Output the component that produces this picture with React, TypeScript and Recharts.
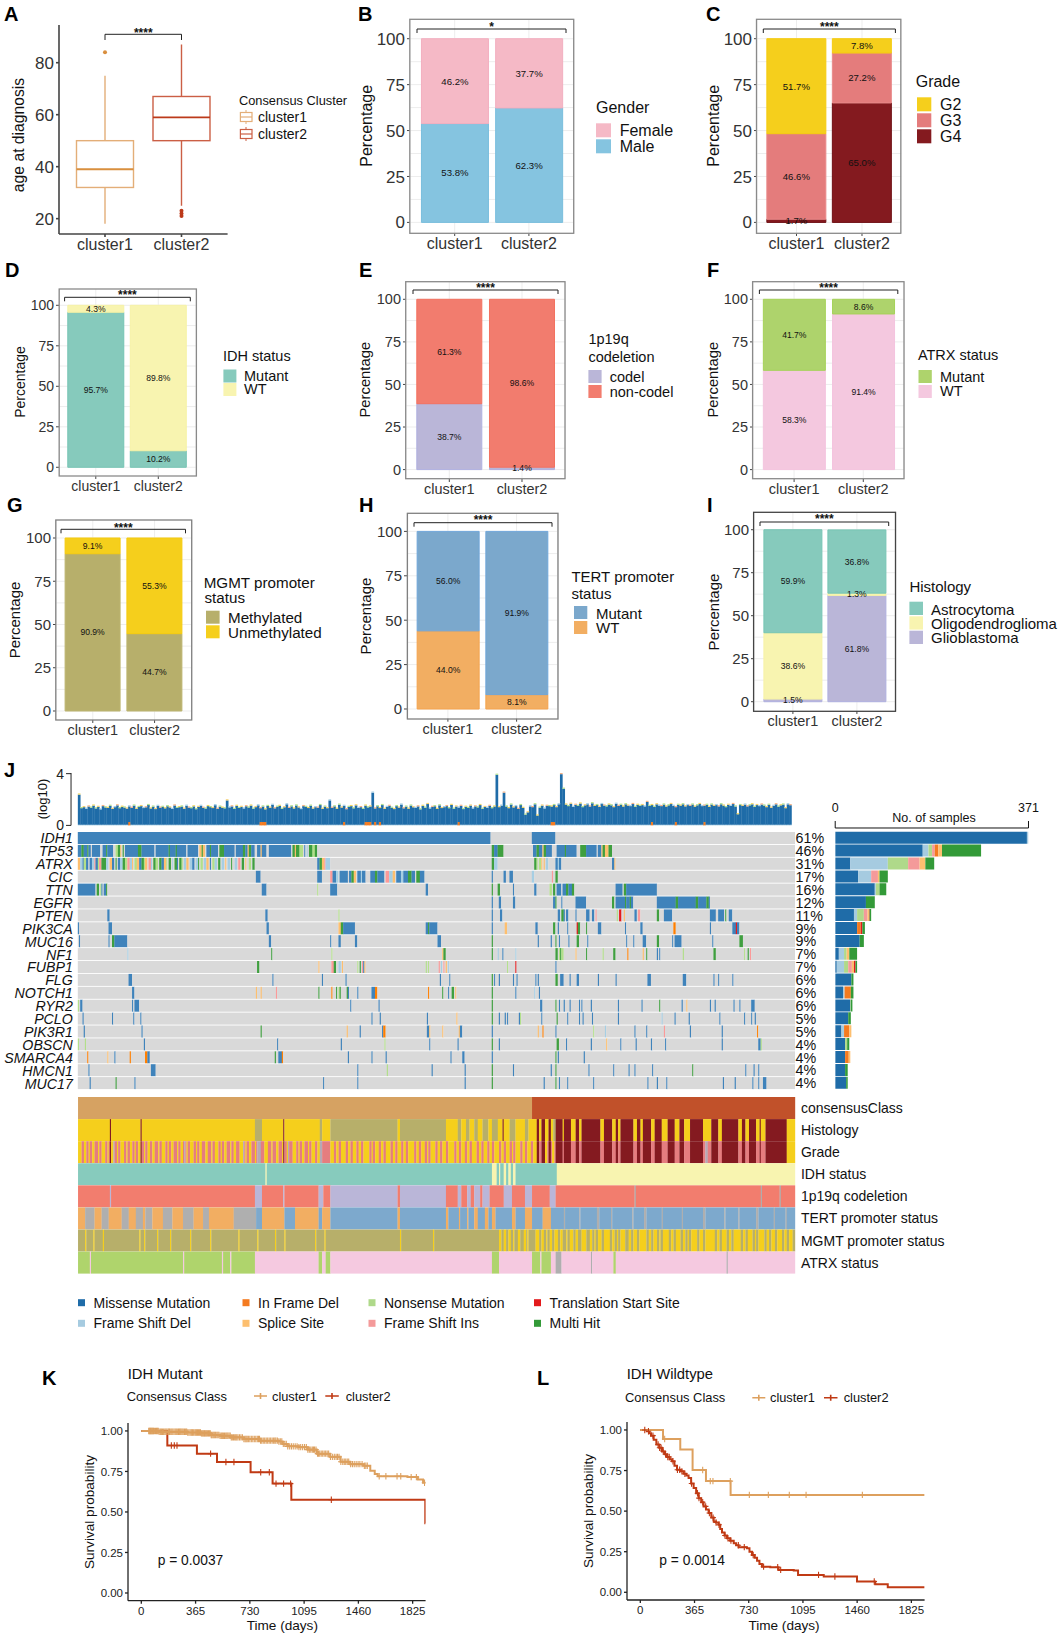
import React from 'react';
import { BarChart, Bar, XAxis, YAxis, CartesianGrid, LabelList, ComposedChart, LineChart, Line } from 'recharts';

const FONT = '"Liberation Sans", Arial, sans-serif';
const clusters = ['cluster1', 'cluster2'];

// ---------- stacked percentage panels (bottom to top, [cluster1, cluster2]) ----------
const genderMale = [53.8, 62.3];
const genderFemale = [46.2, 37.7];
const gradeG4 = [1.7, 65.0];
const gradeG3 = [46.6, 27.2];
const gradeG2 = [51.7, 7.8];
const idhMutant = [95.7, 10.2];
const idhWT = [4.3, 89.8];
const codel = [38.7, 1.4];
const nonCodel = [61.3, 98.6];
const atrxWT = [58.3, 91.4];
const atrxMutant = [41.7, 8.6];
const mgmtMethylated = [90.9, 44.7];
const mgmtUnmethylated = [9.1, 55.3];
const tertWT = [44.0, 8.1];
const tertMutant = [56.0, 91.9];
const histoGlio = [1.5, 61.8];
const histoOligo = [38.6, 1.3];
const histoAstro = [59.9, 36.8];

// ---------- box plot ----------
const ageBoxes = [
  { cat: 'cluster1', range: [32, 50], med: 39, lo: 18, hi: 75, out: [84], color: '#E3AE78', dark: '#D98F3E' },
  { cat: 'cluster2', range: [50, 67], med: 59, lo: 25, hi: 87, out: [21, 22, 23], color: '#CB5F45', dark: '#BC3A1A' },
];

// ---------- oncoplot ----------
const N = 608;
const genes = ['IDH1', 'TP53', 'ATRX', 'CIC', 'TTN', 'EGFR', 'PTEN', 'PIK3CA', 'MUC16', 'NF1', 'FUBP1', 'FLG', 'NOTCH1', 'RYR2', 'PCLO', 'PIK3R1', 'OBSCN', 'SMARCA4', 'HMCN1', 'MUC17'];
const genePct = ['61%', '46%', '31%', '17%', '16%', '12%', '11%', '9%', '9%', '7%', '7%', '6%', '6%', '6%', '5%', '5%', '4%', '4%', '4%', '4%'];
type Run = [number, number, string];
const runsIDH1: Run[] = [[0, 350, 'M'], [385, 20, 'M']];
const runsTP53: Run[] = [[0, 11, 'M'], [3, 2, 'H'], [8, 1, 'H'], [12, 7, 'M'], [21, 9, 'M'], [24, 1, 'H'], [32, 2, 'N'], [34, 2, 'H'], [36, 1, 'S'], [38, 1, 'H'], [40, 11, 'M'], [51, 3, 'H'], [54, 11, 'M'], [66, 5, 'M'], [71, 21, 'M'], [77, 1, 'H'], [83, 1, 'H'], [93, 9, 'M'], [103, 2, 'S'], [105, 1, 'H'], [106, 2, 'S'], [109, 10, 'M'], [112, 1, 'H'], [120, 4, 'H'], [124, 9, 'M'], [134, 6, 'M'], [140, 2, 'H'], [142, 2, 'M'], [144, 1, 'S'], [145, 2, 'H'], [147, 3, 'M'], [152, 3, 'M'], [155, 1, 'S'], [156, 4, 'M'], [162, 19, 'M'], [182, 2, 'H'], [184, 1, 'S'], [185, 3, 'H'], [188, 3, 'N'], [192, 1, 'M'], [194, 1, 'D'], [196, 3, 'H'], [199, 2, 'N'], [201, 2, 'H'], [351, 2, 'H'], [353, 3, 'M'], [356, 2, 'H'], [358, 3, 'H'], [386, 3, 'M'], [389, 2, 'H'], [391, 3, 'M'], [394, 1, 'S'], [395, 2, 'H'], [397, 5, 'M'], [406, 12, 'M'], [418, 5, 'M'], [413, 1, 'H'], [426, 5, 'H'], [431, 9, 'M'], [441, 3, 'M'], [444, 1, 'S'], [445, 2, 'H'], [447, 3, 'S'], [450, 3, 'H']];
const runsATRX: Run[] = [[0, 2, 'S'], [2, 2, 'D'], [4, 1, 'M'], [5, 2, 'N'], [7, 2, 'M'], [10, 2, 'M'], [12, 2, 'D'], [14, 1, 'I'], [15, 2, 'M'], [17, 1, 'N'], [18, 2, 'I'], [20, 2, 'H'], [22, 2, 'H'], [24, 2, 'D'], [27, 2, 'S'], [29, 2, 'M'], [32, 1, 'H'], [34, 2, 'M'], [36, 2, 'D'], [38, 2, 'H'], [40, 2, 'N'], [42, 2, 'I'], [44, 2, 'D'], [46, 1, 'S'], [48, 2, 'N'], [50, 2, 'S'], [52, 2, 'M'], [54, 2, 'H'], [56, 1, 'N'], [57, 2, 'S'], [60, 2, 'I'], [62, 1, 'D'], [64, 2, 'H'], [66, 2, 'N'], [69, 2, 'H'], [71, 2, 'M'], [73, 2, 'S'], [75, 1, 'N'], [77, 2, 'H'], [80, 1, 'D'], [82, 2, 'H'], [84, 1, 'M'], [86, 2, 'H'], [88, 1, 'N'], [90, 2, 'D'], [92, 2, 'S'], [95, 2, 'D'], [97, 2, 'M'], [100, 2, 'D'], [102, 1, 'H'], [104, 2, 'N'], [107, 2, 'D'], [109, 2, 'S'], [112, 1, 'M'], [114, 2, 'N'], [116, 2, 'D'], [119, 2, 'H'], [122, 2, 'D'], [125, 1, 'S'], [127, 2, 'D'], [130, 1, 'H'], [133, 2, 'D'], [136, 2, 'I'], [139, 2, 'H'], [142, 1, 'S'], [145, 2, 'N'], [148, 2, 'H'], [203, 2, 'M'], [205, 2, 'H'], [207, 2, 'S'], [209, 1, 'I'], [210, 4, 'D'], [351, 2, 'H'], [353, 3, 'D'], [387, 2, 'H'], [389, 1, 'N'], [391, 2, 'N'], [393, 1, 'S'], [395, 1, 'S'], [397, 2, 'D'], [405, 2, 'M'], [407, 1, 'D'], [408, 2, 'M'], [453, 2, 'M'], [455, 1, 'S']];
const runsCIC: Run[] = [[151, 2, 'M'], [153, 2, 'M'], [203, 4, 'M'], [214, 2, 'I'], [216, 3, 'M'], [219, 2, 'D'], [222, 7, 'M'], [230, 2, 'M'], [232, 2, 'H'], [234, 2, 'S'], [237, 3, 'M'], [240, 1, 'D'], [241, 3, 'M'], [248, 4, 'M'], [252, 2, 'H'], [254, 6, 'M'], [261, 3, 'I'], [264, 3, 'D'], [267, 2, 'S'], [270, 4, 'M'], [274, 2, 'D'], [276, 4, 'M'], [280, 3, 'H'], [283, 3, 'M'], [287, 3, 'H'], [290, 4, 'M'], [351, 1, 'M'], [361, 2, 'M'], [366, 3, 'M'], [385, 2, 'D'], [402, 1, 'I'], [405, 2, 'H']];
const runsTTN: Run[] = [[0, 15, 'M'], [16, 2, 'H'], [19, 1, 'N'], [20, 1, 'M'], [22, 2, 'M'], [24, 1, 'H'], [156, 4, 'M'], [203, 1, 'N'], [214, 6, 'M'], [295, 2, 'M'], [351, 1, 'H'], [356, 2, 'H'], [369, 1, 'M'], [387, 2, 'M'], [400, 2, 'N'], [403, 2, 'H'], [406, 4, 'M'], [411, 10, 'M'], [414, 2, 'H'], [419, 2, 'H'], [456, 6, 'M'], [463, 2, 'H'], [465, 26, 'M']];
const runsEGFR: Run[] = [[351, 1, 'M'], [357, 2, 'M'], [369, 2, 'M'], [403, 2, 'M'], [405, 1, 'H'], [410, 1, 'M'], [422, 9, 'M'], [453, 2, 'H'], [456, 15, 'M'], [464, 1, 'H'], [468, 1, 'H'], [491, 45, 'M'], [507, 2, 'H'], [524, 2, 'H'], [533, 2, 'H']];
const runsPTEN: Run[] = [[25, 2, 'M'], [159, 2, 'M'], [221, 1, 'N'], [351, 1, 'M'], [358, 2, 'M'], [407, 2, 'M'], [410, 2, 'H'], [412, 1, 'M'], [414, 2, 'M'], [422, 1, 'M'], [431, 3, 'M'], [436, 2, 'M'], [439, 1, 'I'], [457, 1, 'N'], [459, 2, 'T'], [463, 1, 'S'], [472, 2, 'M'], [475, 2, 'I'], [491, 2, 'H'], [497, 7, 'M'], [536, 5, 'M'], [543, 5, 'M'], [549, 1, 'H'], [552, 3, 'M']];
const runsPIK3CA: Run[] = [[0, 1, 'M'], [26, 3, 'M'], [160, 2, 'M'], [221, 2, 'S'], [223, 2, 'H'], [225, 10, 'M'], [295, 2, 'M'], [297, 1, 'H'], [298, 7, 'M'], [351, 1, 'M'], [362, 2, 'S'], [388, 2, 'M'], [403, 2, 'H'], [407, 1, 'M'], [415, 1, 'M'], [423, 1, 'T'], [424, 2, 'H'], [431, 1, 'H'], [441, 3, 'M'], [464, 1, 'M'], [477, 2, 'M'], [505, 2, 'F'], [536, 1, 'M'], [555, 3, 'M'], [558, 1, 'T'], [559, 2, 'M']];
const runsMUC16: Run[] = [[1, 1, 'M'], [26, 1, 'M'], [29, 2, 'H'], [31, 11, 'M'], [162, 2, 'M'], [214, 1, 'M'], [221, 2, 'M'], [235, 2, 'M'], [305, 3, 'M'], [351, 1, 'H'], [390, 1, 'M'], [401, 1, 'M'], [405, 1, 'H'], [408, 1, 'M'], [416, 1, 'M'], [423, 2, 'H'], [432, 1, 'M'], [465, 1, 'M'], [471, 1, 'M'], [479, 3, 'M'], [491, 2, 'H'], [504, 1, 'M'], [506, 6, 'M'], [538, 1, 'M'], [561, 3, 'H']];
const runsNF1: Run[] = [[42, 1, 'D'], [164, 1, 'H'], [215, 1, 'N'], [309, 1, 'S'], [310, 2, 'H'], [351, 1, 'H'], [356, 1, 'D'], [360, 1, 'M'], [371, 1, 'D'], [405, 2, 'H'], [408, 1, 'N'], [409, 1, 'H'], [410, 2, 'N'], [422, 1, 'S'], [431, 1, 'H'], [445, 1, 'N'], [454, 2, 'H'], [466, 1, 'F'], [479, 1, 'S'], [482, 1, 'H'], [491, 1, 'M'], [493, 1, 'M'], [513, 1, 'N'], [539, 2, 'H'], [565, 1, 'N'], [568, 1, 'H'], [570, 1, 'I']];
const runsFUBP1: Run[] = [[152, 2, 'H'], [204, 1, 'S'], [215, 2, 'I'], [217, 2, 'H'], [221, 2, 'D'], [224, 1, 'S'], [237, 1, 'N'], [239, 1, 'H'], [241, 1, 'I'], [242, 1, 'M'], [243, 1, 'S'], [295, 1, 'N'], [297, 1, 'N'], [306, 1, 'I'], [308, 1, 'D'], [310, 1, 'I'], [312, 1, 'S'], [314, 1, 'D'], [364, 1, 'N'], [371, 1, 'T'], [405, 1, 'M']];
const runsFLG: Run[] = [[43, 3, 'M'], [165, 1, 'M'], [207, 1, 'M'], [227, 1, 'M'], [307, 1, 'M'], [315, 1, 'M'], [351, 1, 'H'], [353, 1, 'M'], [357, 1, 'M'], [369, 1, 'M'], [372, 1, 'M'], [388, 1, 'M'], [390, 1, 'M'], [405, 2, 'H'], [409, 3, 'M'], [417, 1, 'M'], [423, 2, 'M'], [441, 1, 'M'], [456, 1, 'M'], [483, 3, 'M'], [513, 3, 'M'], [539, 1, 'M'], [543, 1, 'M'], [555, 1, 'M']];
const runsNOTCH1: Run[] = [[46, 2, 'M'], [151, 1, 'S'], [155, 1, 'S'], [168, 1, 'I'], [204, 1, 'H'], [215, 1, 'F'], [219, 1, 'H'], [221, 1, 'N'], [222, 1, 'H'], [228, 1, 'H'], [229, 1, 'M'], [237, 1, 'M'], [249, 3, 'M'], [252, 2, 'F'], [297, 1, 'F'], [309, 1, 'H'], [314, 1, 'M'], [317, 2, 'H'], [320, 1, 'S'], [351, 1, 'H'], [371, 1, 'M'], [387, 1, 'D'], [391, 1, 'M']];
const runsRYR2: Run[] = [[0, 1, 'N'], [2, 2, 'M'], [46, 1, 'M'], [48, 4, 'M'], [231, 1, 'M'], [255, 1, 'M'], [351, 1, 'H'], [392, 2, 'M'], [405, 1, 'H'], [408, 1, 'M'], [412, 1, 'M'], [417, 1, 'M'], [425, 1, 'M'], [427, 1, 'M'], [435, 1, 'M'], [458, 1, 'M'], [478, 1, 'M'], [493, 1, 'H'], [512, 1, 'M'], [516, 1, 'S'], [536, 1, 'M'], [540, 1, 'M'], [556, 1, 'M'], [561, 1, 'M'], [571, 3, 'M']];
const runsPCLO: Run[] = [[4, 1, 'M'], [29, 1, 'M'], [47, 1, 'M'], [53, 1, 'M'], [249, 1, 'M'], [256, 1, 'M'], [296, 1, 'M'], [321, 1, 'S'], [351, 1, 'H'], [357, 1, 'M'], [362, 1, 'M'], [364, 1, 'M'], [374, 1, 'M'], [375, 1, 'N'], [393, 1, 'M'], [406, 1, 'H'], [415, 1, 'M'], [425, 1, 'M'], [428, 1, 'M'], [436, 1, 'M'], [458, 1, 'M'], [495, 1, 'D'], [506, 1, 'M'], [518, 1, 'M'], [544, 1, 'M'], [565, 1, 'M'], [571, 1, 'M'], [574, 1, 'M']];
const runsPIK3R1: Run[] = [[5, 1, 'M'], [54, 1, 'M'], [155, 1, 'H'], [228, 1, 'S'], [239, 1, 'M'], [258, 1, 'M'], [259, 2, 'F'], [296, 2, 'M'], [298, 1, 'S'], [309, 1, 'S'], [323, 1, 'S'], [324, 2, 'M'], [351, 1, 'M'], [390, 1, 'S'], [394, 1, 'F'], [405, 1, 'M'], [437, 1, 'N'], [447, 1, 'D'], [472, 1, 'M'], [482, 1, 'M'], [497, 1, 'I'], [519, 1, 'M'], [546, 1, 'M'], [576, 1, 'F']];
const runsOBSCN: Run[] = [[0, 1, 'N'], [6, 1, 'N'], [56, 1, 'M'], [169, 1, 'M'], [223, 1, 'M'], [260, 1, 'N'], [298, 1, 'M'], [322, 1, 'M'], [351, 1, 'H'], [357, 1, 'M'], [406, 2, 'H'], [414, 1, 'M'], [435, 1, 'M'], [448, 1, 'S'], [460, 1, 'M'], [473, 1, 'M'], [486, 1, 'M'], [498, 1, 'M'], [546, 1, 'M'], [577, 2, 'M'], [579, 1, 'N']];
const runsSMARCA4: Run[] = [[8, 1, 'F'], [25, 1, 'S'], [31, 1, 'M'], [44, 1, 'F'], [57, 2, 'F'], [59, 2, 'M'], [167, 1, 'H'], [170, 3, 'M'], [173, 1, 'F'], [229, 1, 'M'], [249, 1, 'M'], [261, 1, 'M'], [316, 1, 'M'], [326, 2, 'M'], [351, 1, 'M'], [405, 1, 'H'], [407, 1, 'M'], [429, 1, 'M']];
const runsHMCN1: Run[] = [[9, 1, 'M'], [62, 4, 'M'], [237, 1, 'M'], [262, 1, 'N'], [300, 1, 'M'], [328, 1, 'M'], [351, 1, 'H'], [369, 1, 'M'], [401, 1, 'M'], [405, 1, 'H'], [433, 1, 'M'], [454, 1, 'M'], [467, 1, 'M'], [472, 1, 'M'], [487, 1, 'M'], [521, 1, 'H'], [566, 1, 'M'], [573, 1, 'M'], [577, 1, 'M']];
const runsMUC17: Run[] = [[10, 1, 'M'], [32, 1, 'H'], [48, 1, 'M'], [208, 1, 'M'], [237, 1, 'M'], [328, 1, 'M'], [351, 1, 'H'], [395, 1, 'M'], [405, 1, 'H'], [408, 1, 'M'], [415, 1, 'M'], [437, 1, 'M'], [483, 1, 'M'], [491, 1, 'M'], [499, 1, 'M'], [547, 1, 'M'], [557, 1, 'M'], [572, 1, 'M'], [577, 1, 'M'], [581, 3, 'M']];
const geneRuns = [runsIDH1, runsTP53, runsATRX, runsCIC, runsTTN, runsEGFR, runsPTEN, runsPIK3CA, runsMUC16, runsNF1, runsFUBP1, runsFLG, runsNOTCH1, runsRYR2, runsPCLO, runsPIK3R1, runsOBSCN, runsSMARCA4, runsHMCN1, runsMUC17];

// Samples per gene by mutation class
const cntMissense = [368, 168, 29, 44, 76, 59, 36, 42, 47, 7, 3, 31, 15, 29, 25, 12, 19, 19, 19, 21];
const cntFrameDel = [3, 11, 72, 25, 2, 0, 6, 0, 0, 10, 14, 0, 3, 0, 0, 5, 0, 0, 0, 0];
const cntNonsense = [0, 7, 39, 0, 7, 0, 13, 0, 0, 5, 8, 0, 0, 1, 0, 0, 4, 0, 0, 0];
const cntFrameIns = [0, 5, 22, 13, 0, 0, 7, 0, 0, 0, 7, 0, 0, 0, 0, 0, 0, 0, 0, 0];
const cntInFrame = [0, 7, 0, 0, 0, 0, 0, 7, 0, 0, 0, 0, 12, 0, 0, 10, 0, 7, 0, 0];
const cntSplice = [0, 7, 11, 3, 0, 0, 3, 0, 0, 5, 4, 0, 0, 0, 0, 4, 0, 3, 0, 0];
const cntStart = [0, 0, 0, 0, 0, 0, 1, 3, 0, 0, 3, 0, 0, 0, 0, 0, 0, 0, 0, 0];
const cntMulti = [0, 75, 17, 16, 13, 17, 3, 5, 8, 15, 3, 4, 5, 3, 5, 0, 4, 0, 5, 3];

// log10 mutation burden, two samples per value
const tmbTotals = [2.47, 1.42, 1.5, 1.38, 1.55, 1.46, 1.62, 1.4, 1.52, 1.33, 1.58, 1.48, 1.44, 1.6, 1.36, 1.5, 1.64, 1.42, 1.53, 1.47,
  1.39, 1.56, 1.45, 1.62, 1.37, 1.51, 1.58, 1.43, 1.49, 1.66, 1.4, 1.54, 1.35, 1.6, 1.46, 1.52, 1.41, 1.57, 1.48, 1.36,
  1.63, 1.44, 1.5, 1.55, 1.38, 1.61, 1.47, 1.42, 1.56, 1.34, 1.52, 1.6, 1.45, 1.39, 1.58, 1.5, 1.43, 1.65, 1.37, 1.54,
  1.46, 1.41, 2.02, 1.48, 1.56, 1.36, 1.6, 1.44, 1.52, 1.4, 1.57, 1.47, 1.62, 1.38, 1.5, 1.64, 1.42, 1.55, 1.33, 1.59,
  1.46, 1.68, 1.41, 1.53, 1.6, 1.37, 1.49, 1.72, 1.44, 1.56, 1.4, 1.63, 1.48, 1.35, 1.58, 1.52, 1.43, 1.61, 1.39, 1.5,
  1.46, 1.66, 1.37, 1.54, 1.42, 2.02, 1.45, 1.56, 1.38, 1.69, 1.47, 1.6, 1.34, 1.52, 1.58, 1.41, 1.64, 1.44, 1.5, 1.36,
  1.62, 1.48, 1.55, 2.62, 1.4, 1.57, 1.43, 1.66, 1.37, 1.52, 1.6, 1.45, 1.35, 1.58, 1.47, 1.7, 1.41, 1.54, 1.38, 1.62,
  1.49, 1.44, 1.56, 1.33, 1.6, 1.46, 1.74, 1.4, 1.52, 1.57, 1.36, 1.64, 1.43, 1.5, 1.58, 1.42, 1.67, 1.38, 1.55, 1.47,
  1.6, 1.35, 1.53, 1.44, 1.62, 1.4, 1.56, 1.48, 1.66, 1.37, 1.51, 1.45, 1.6, 1.42, 1.55, 4.0, 1.5, 1.62, 2.62, 1.55,
  1.42, 1.7, 1.48, 1.58, 1.36, 1.66, 1.44, 0.92, 1.1, 1.56, 1.5, 1.72, 0.85, 1.46, 1.62, 1.4, 1.6, 1.58, 1.55, 1.66,
  1.5, 1.72, 4.05, 2.92, 1.7, 1.58, 1.76, 1.52, 1.68, 1.6, 1.78, 1.5, 1.64, 1.72, 1.55, 1.8, 1.6, 1.66, 1.52, 1.74,
  1.62, 1.56, 1.7, 1.64, 1.5, 1.76, 1.6, 1.68, 1.55, 1.72, 1.62, 1.58, 1.74, 1.52, 1.68, 1.6, 1.66, 1.56, 1.9, 1.6,
  1.66, 1.52, 1.72, 1.62, 1.58, 1.7, 1.55, 1.64, 1.74, 1.6, 1.5, 1.68, 1.62, 1.72, 1.56, 1.66, 1.6, 1.7, 1.54, 1.64,
  1.74, 1.58, 1.62, 1.68, 1.52, 1.7, 1.6, 1.66, 1.56, 1.72, 1.62, 1.5, 1.68, 1.6, 1.74, 1.55, 0.95, 1.66, 1.6, 1.7,
  1.56, 1.64, 1.72, 1.52, 1.66, 1.58, 1.7, 1.62, 1.5, 1.68, 1.46, 1.6, 1.72, 1.54, 1.64, 1.7, 1.42, 1.72, 1.65];
const tmbBlips = [21, 76, 77, 78, 111, 120, 121, 122, 124, 126, 159, 198, 199, 240, 250, 262];

// ---------- annotation tracks ----------
const trackNames = ['consensusClass', 'Histology', 'Grade', 'IDH status', '1p19q codeletion', 'TERT promoter status', 'MGMT promoter status', 'ATRX status'];
const consensusRuns: Run[] = [[385, 223, 'rust']];
const g4Runs: Run[] = [[389, 2, 'dred'], [393, 3, 'dred'], [399, 2, 'dred'], [405, 6, 'dred'], [412, 6, 'dred'], [422, 3, 'dred'], [427, 16, 'dred'], [446, 7, 'dred'], [456, 2, 'dred'], [460, 11, 'dred'], [474, 3, 'dred'], [479, 7, 'dred'], [489, 6, 'dred'], [500, 6, 'dred'], [510, 4, 'dred'], [519, 11, 'dred'], [537, 6, 'dred'], [546, 14, 'dred'], [563, 3, 'dred'], [569, 6, 'dred'], [578, 1, 'dred'], [583, 18, 'dred']];
const histologyRuns: Run[] = [[27, 1, 'dred'], [53, 1, 'dred'], [150, 6, 'olive'], [174, 1, 'dred'], [205, 2, 'olive'], [214, 57, 'olive'], [273, 39, 'olive'], [322, 3, 'olive'], [329, 3, 'olive'], [336, 3, 'olive'], [343, 5, 'olive'], [351, 5, 'olive'], [360, 1, 'dred'], [366, 5, 'olive'], [379, 3, 'olive'], [403, 2, 'olive'], ...g4Runs];
const gradeRuns: Run[] = [[0, 3, 'yel'], [5, 2, 'yel'], [9, 1, 'yel'], [12, 2, 'yel'], [17, 1, 'yel'], [20, 3, 'yel'], [25, 1, 'yel'], [28, 2, 'yel'], [33, 1, 'yel'], [36, 3, 'yel'], [41, 1, 'yel'], [44, 2, 'yel'], [48, 1, 'yel'], [51, 3, 'yel'], [56, 1, 'yel'], [59, 2, 'yel'], [63, 2, 'yel'], [68, 1, 'yel'], [71, 3, 'yel'], [76, 1, 'yel'], [79, 2, 'yel'], [84, 1, 'yel'], [87, 2, 'yel'], [92, 1, 'yel'], [95, 3, 'yel'], [100, 1, 'yel'], [103, 2, 'yel'], [108, 2, 'yel'], [113, 1, 'yel'], [116, 3, 'yel'], [121, 1, 'yel'], [124, 2, 'yel'], [129, 1, 'yel'], [132, 2, 'yel'], [137, 3, 'yel'], [142, 1, 'yel'], [145, 2, 'yel'], [150, 1, 'yel'], [153, 2, 'yel'], [158, 3, 'yel'], [164, 1, 'yel'], [168, 2, 'yel'], [173, 1, 'yel'], [177, 2, 'yel'], [182, 3, 'yel'], [187, 1, 'yel'], [190, 2, 'yel'], [195, 1, 'yel'], [198, 3, 'yel'], [203, 2, 'yel'], [214, 3, 'yel'], [219, 2, 'yel'], [223, 4, 'yel'], [229, 2, 'yel'], [233, 3, 'yel'], [238, 2, 'yel'], [242, 5, 'yel'], [249, 1, 'yel'], [252, 3, 'yel'], [257, 2, 'yel'], [261, 4, 'yel'], [267, 2, 'yel'], [271, 3, 'yel'], [276, 2, 'yel'], [280, 5, 'yel'], [287, 2, 'yel'], [291, 3, 'yel'], [296, 1, 'yel'], [299, 4, 'yel'], [305, 2, 'yel'], [309, 3, 'yel'], [314, 5, 'yel'], [321, 2, 'yel'], [325, 3, 'yel'], [330, 2, 'yel'], [334, 4, 'yel'], [340, 2, 'yel'], [344, 3, 'yel'], [349, 2, 'yel'], [353, 4, 'yel'], [359, 2, 'yel'], [363, 3, 'yel'], [368, 1, 'yel'], [371, 4, 'yel'], [377, 2, 'yel'], [381, 3, 'yel'], [386, 3, 'yel'], [396, 2, 'yel'], [402, 2, 'yel'], [601, 7, 'yel'], [30, 1, 'gray'], [90, 1, 'gray'], [140, 1, 'gray'], [152, 3, 'gray'], [178, 1, 'gray'], [205, 2, 'gray'], [27, 1, 'dred'], [53, 1, 'dred'], [174, 1, 'dred'], [532, 2, 'gray'], ...g4Runs];
const idhRuns: Run[] = [[159, 1, 'cream'], [351, 4, 'cream'], [357, 1, 'cream'], [361, 2, 'cream'], [365, 2, 'cream'], [369, 2, 'cream'], [406, 202, 'cream']];
const codelRuns: Run[] = [[27, 1, 'purple'], [150, 6, 'purple'], [174, 1, 'purple'], [204, 4, 'purple'], [214, 57, 'purple'], [273, 39, 'purple'], [322, 3, 'purple'], [330, 3, 'purple'], [336, 5, 'purple'], [343, 6, 'purple'], [361, 7, 'purple'], [379, 6, 'purple'], [400, 5, 'purple'], [472, 1, 'tgray'], [579, 1, 'tgray'], [595, 1, 'tgray']];
const tertRuns: Run[] = [[0, 6, 'org'], [6, 8, 'tgray'], [14, 6, 'org'], [20, 6, 'tgray'], [26, 11, 'org'], [37, 6, 'tgray'], [43, 6, 'org'], [49, 6, 'tgray'], [55, 2, 'org'], [57, 6, 'tgray'], [63, 9, 'org'], [72, 8, 'tgray'], [80, 9, 'org'], [89, 9, 'tgray'], [98, 8, 'org'], [106, 5, 'tgray'], [111, 21, 'org'], [132, 19, 'tgray'], [156, 19, 'org'], [184, 20, 'org'], [207, 7, 'org'], [271, 2, 'org'], [312, 2, 'org'], [323, 1, 'org'], [330, 1, 'org'], [336, 3, 'org'], [345, 3, 'org'], [351, 3, 'org'], [368, 3, 'org'], [379, 6, 'org'], [394, 7, 'org'], [412, 1, 'tgray'], [425, 1, 'tgray'], [440, 2, 'tgray'], [452, 1, 'tgray'], [470, 1, 'tgray'], [480, 2, 'tgray'], [495, 1, 'tgray'], [512, 1, 'tgray'], [530, 2, 'tgray'], [548, 1, 'tgray'], [560, 1, 'tgray'], [575, 2, 'tgray'], [590, 1, 'tgray'], [600, 1, 'tgray']];
const mgmtRuns: Run[] = [[6, 1, 'yel'], [13, 1, 'yel'], [21, 1, 'yel'], [52, 1, 'yel'], [56, 1, 'yel'], [67, 1, 'yel'], [78, 1, 'yel'], [95, 1, 'yel'], [112, 1, 'yel'], [136, 1, 'yel'], [152, 1, 'yel'], [167, 1, 'yel'], [175, 1, 'yel'], [201, 1, 'yel'], [209, 1, 'yel'], [273, 1, 'yel'], [301, 1, 'yel'], [357, 2, 'yel'], [361, 2, 'yel'], [365, 2, 'yel'], [369, 1, 'yel'], [373, 2, 'yel'], [378, 2, 'yel'], [381, 1, 'yel'], [388, 3, 'yel'], [393, 2, 'yel'], [397, 1, 'yel'], [400, 2, 'yel'], [404, 3, 'yel'], [409, 2, 'yel'], [414, 1, 'yel'], [417, 3, 'yel'], [422, 2, 'yel'], [427, 4, 'yel'], [434, 2, 'yel'], [438, 1, 'yel'], [441, 3, 'yel'], [446, 5, 'yel'], [453, 2, 'yel'], [457, 1, 'yel'], [460, 4, 'yel'], [467, 2, 'yel'], [471, 3, 'yel'], [476, 6, 'yel'], [484, 2, 'yel'], [488, 3, 'yel'], [493, 1, 'yel'], [496, 5, 'yel'], [503, 2, 'yel'], [507, 4, 'yel'], [513, 2, 'yel'], [517, 1, 'yel'], [520, 5, 'yel'], [527, 3, 'yel'], [532, 8, 'yel'], [542, 2, 'yel'], [546, 4, 'yel'], [552, 2, 'yel'], [556, 6, 'yel'], [564, 2, 'yel'], [568, 4, 'yel'], [574, 1, 'yel'], [577, 5, 'yel'], [584, 2, 'yel'], [588, 3, 'yel'], [593, 4, 'yel'], [599, 2, 'yel'], [603, 3, 'yel']];
const atrxRuns: Run[] = [[0, 150, 'grn'], [10, 1, 'lpink'], [89, 1, 'lpink'], [122, 1, 'lpink'], [129, 1, 'lpink'], [204, 3, 'grn'], [210, 4, 'grn'], [351, 6, 'grn'], [385, 7, 'grn'], [393, 8, 'grn'], [405, 5, 'tgray'], [435, 1, 'tgray'], [454, 2, 'grn'], [550, 1, 'tgray']];
const trackBases = ['tan', 'yel', 'pink', 'teal', 'salmon', 'tblue', 'olive', 'lpink'];
const trackRuns = [consensusRuns, histologyRuns, gradeRuns, idhRuns, codelRuns, tertRuns, mgmtRuns, atrxRuns];

// ---------- survival curves: [day, probability] ----------
const km1Cluster1 = [[0, 1], [120, 0.995], [310, 0.99], [400, 0.985], [465, 0.975], [530, 0.97], [600, 0.96], [690, 0.95], [800, 0.94], [925, 0.935], [950, 0.92], [985, 0.905], [1060, 0.9], [1120, 0.885], [1180, 0.86], [1270, 0.84], [1340, 0.81], [1405, 0.795], [1495, 0.785], [1540, 0.755], [1570, 0.735], [1590, 0.72], [1790, 0.715], [1860, 0.7], [1895, 0.68], [1912, 0.68]];
const km1Cluster2 = [[0, 1], [175, 0.91], [374, 0.86], [509, 0.808], [735, 0.745], [883, 0.675], [1009, 0.575], [1910, 0.43], [1912, 0.43]];
const km1Censor1 = [50, 54, 58, 62, 66, 70, 74, 78, 82, 88, 95, 102, 108, 114, 120, 128, 135, 142, 150, 158, 165, 172, 180, 185, 190, 198, 205, 212, 220, 228, 235, 242, 250, 256, 262, 268, 275, 282, 290, 298, 305, 312, 320, 328, 335, 340, 345, 352, 360, 366, 372, 378, 385, 392, 398, 404, 410, 415, 420, 425, 430, 435, 440, 446, 452, 458, 464, 470, 475, 482, 488, 494, 500, 508, 515, 522, 530, 538, 545, 552, 560, 568, 575, 582, 590, 598, 605, 612, 620, 628, 635, 642, 650, 660, 670, 680, 690, 698, 705, 712, 720, 730, 740, 750, 760, 770, 780, 788, 795, 802, 810, 820, 830, 840, 850, 860, 870, 880, 890, 898, 905, 915, 925, 935, 945, 955, 965, 975, 985, 998, 1010, 1022, 1035, 1048, 1060, 1072, 1085, 1098, 1110, 1120, 1130, 1140, 1150, 1158, 1165, 1175, 1185, 1192, 1200, 1210, 1220, 1230, 1240, 1250, 1260, 1272, 1285, 1298, 1310, 1320, 1330, 1342, 1355, 1365, 1375, 1385, 1395, 1408, 1420, 1432, 1445, 1458, 1470, 1485, 1500, 1510, 1520, 1600, 1645, 1720, 1745, 1815, 1850, 1905];
const km1Censor2 = [202, 222, 240, 466, 569, 623, 803, 861, 906, 957, 1004, 1278];
const km2Cluster1 = [[0, 1], [153, 0.944], [269, 0.88], [352, 0.753], [442, 0.685], [608, 0.6], [1914, 0.6]];
const km2Cluster2 = [[0, 1], [45, 0.992], [60, 0.98], [72, 0.965], [90, 0.94], [108, 0.91], [128, 0.89], [146, 0.868], [165, 0.85], [180, 0.833], [198, 0.82], [213, 0.807], [230, 0.78], [247, 0.755], [270, 0.745], [292, 0.73], [310, 0.72], [325, 0.704], [342, 0.67], [359, 0.642], [376, 0.61], [393, 0.58], [410, 0.555], [426, 0.529], [442, 0.51], [460, 0.488], [478, 0.46], [494, 0.436], [510, 0.43], [527, 0.416], [538, 0.39], [550, 0.368], [567, 0.35], [584, 0.333], [605, 0.318], [629, 0.302], [645, 0.29], [662, 0.278], [718, 0.272], [735, 0.25], [752, 0.23], [770, 0.212], [786, 0.195], [802, 0.175], [819, 0.158], [875, 0.154], [931, 0.138], [1033, 0.134], [1062, 0.107], [1212, 0.107], [1235, 0.097], [1425, 0.097], [1459, 0.066], [1571, 0.066], [1582, 0.05], [1661, 0.05], [1666, 0.031], [1914, 0.031]];
const km2Censor1 = [164, 420, 471, 489, 606, 734, 862, 1003, 1116, 1495];
const km2Censor2 = [30, 55, 85, 120, 130, 140, 155, 170, 185, 195, 220, 250, 265, 280, 300, 345, 385, 395, 420, 440, 465, 490, 510, 530, 570, 590, 610, 660, 700, 760, 830, 925, 945, 1200, 1310, 1575];
const dayTicks = [0, 365, 730, 1095, 1460, 1825];
const probTicks = [0, 0.25, 0.5, 0.75, 1];

// ---------- styles ----------
const mutColors: Record<string, string> = { M: '#3F83BB', D: '#A6CEE3', N: '#B2DF8A', I: '#FB9A99', S: '#FDBF6F', F: '#FF7F00', T: '#E31A1C', H: '#3F9F3F', bg: '#D9D9D9' };
const barColors = ['#1F6CA8', '#A6CBE0', '#AFD98A', '#F49A9A', '#F47B20', '#FDBF6F', '#E31A1C', '#339A38'];
const trackColors: Record<string, string> = { tan: '#D6A262', rust: '#C1512A', yel: '#F5CF1C', olive: '#B7AF6A', dred: '#841A20', pink: '#E57D7F', gray: '#B5A9B5', teal: '#87CBBD', cream: '#F8F4B0', salmon: '#F27D6E', purple: '#BAB6D8', tblue: '#7DA9CD', org: '#F2AE62', tgray: '#AFAFAF', grn: '#AFD46C', lpink: '#F5C9E0' };
const PINK = ['#F5B9C6', '#F3AFC0'], BLUE = ['#85C4E0', '#78BEDD'], YEL = ['#F5CF1C', '#F5CB0F'], ROSE = ['#E47C7C', '#E98A8A'], DRED = ['#841A1F', '#6E0F14'];
const TEAL = ['#86CABC', '#76C5B4'], CREAM = ['#F8F4B0', '#F6F2A6'], PURP = ['#BAB6D8', '#B0B0E0'], SALM = ['#F27C6E', '#F3715F'], GRN = ['#AED36C', '#A5D257'], LPNK = ['#F4C8DF', '#F4C4DE'], OLV = ['#B7AF6B', '#BDB56F'], TBL = ['#7BA8CC', '#6FA7DA'], ORG = ['#F2AE62', '#F4A34D'];

type Seg = { s: number; l: number; c: string };
function paint(base: string, runs: Run[]): Seg[] {
  const cells: string[] = new Array(N).fill(base);
  runs.forEach(([s, l, c]) => { for (let i = s; i < s + l && i < N; i++) cells[i] = c; });
  const out: Seg[] = [];
  cells.forEach((c, i) => {
    const last = out[out.length - 1];
    if (last && last.c === c) last.l += 1; else out.push({ s: i, l: 1, c });
  });
  return out;
}

const runShape = (colors: Record<string, string>) => (p: any) => {
  const u = p.width / N;
  return (
    <g>
      {p.payload.segs.map((seg: Seg, i: number) => (
        <rect key={i} x={p.x + seg.s * u} y={p.y} width={seg.l * u + 0.2} height={p.height} fill={colors[seg.c]} />
      ))}
    </g>
  );
};

type Box = { l: number; r: number; t: number; b: number; y100: number; y0: number; c1: number; c2: number; bw: number };
type Series = { key: string; values: number[]; col: string[] };

function StackPanel({ g, series, tickFont, xFont, labelFont, tickColor = '#333' }: { g: Box; series: Series[]; tickFont: number; xFont: number; labelFont: number; tickColor?: string }) {
  const M = 50;
  const k = (g.y0 - g.y100) / 100;
  const domain = [-(g.b - g.y0) / k, 100 + (g.y100 - g.t) / k];
  const band = g.c2 - g.c1;
  const data = clusters.map((cat, i) => {
    const row: any = { cat };
    series.forEach((s) => { row[s.key] = s.values[i]; });
    return row;
  });
  return (
    <div style={{ position: 'absolute', left: g.l - M, top: g.t - 5 }}>
      <BarChart
        width={g.r - g.l + M + 8}
        height={g.b - g.t + 35}
        data={data}
        margin={{ top: 5, right: 8, bottom: 0, left: 0 }}
        barCategoryGap={(band - g.bw) / 2}
      >
        <CartesianGrid stroke="#EDEDED" strokeWidth={1} horizontalValues={[0, 12.5, 25, 37.5, 50, 62.5, 75, 87.5, 100]} />
        <XAxis
          dataKey="cat"
          height={30}
          tickSize={3}
          tickMargin={2}
          interval={0}
          axisLine={false}
          tickLine={{ stroke: '#444' }}
          padding={{ left: g.c1 - band / 2 - g.l, right: g.r - (g.c2 + band / 2) }}
          tick={{ fontSize: xFont, fill: tickColor, fontFamily: FONT }}
        />
        <YAxis
          type="number"
          width={M}
          domain={domain as any}
          allowDataOverflow
          ticks={[0, 25, 50, 75, 100]}
          interval={0}
          tickSize={3}
          tickMargin={2}
          axisLine={false}
          tickLine={{ stroke: '#444' }}
          tick={{ fontSize: tickFont, fill: tickColor, fontFamily: FONT }}
        />
        {series.map((s) => (
          <Bar key={s.key} dataKey={s.key} stackId="a" fill={s.col[0]} stroke={s.col[1]} strokeWidth={1} isAnimationActive={false}>
            <LabelList
              dataKey={s.key}
              position="center"
              formatter={(v: any) => `${Number(v).toFixed(1)}%`}
              style={{ fontSize: labelFont, fill: '#111', fontFamily: FONT }}
            />
          </Bar>
        ))}
      </BarChart>
    </div>
  );
}

const boxShape = (p: any) => {
  const d = p.payload;
  const [q1, q3] = d.range;
  const u = p.height / (q3 - q1);
  const cx = p.x + p.width / 2;
  const yOf = (v: number) => p.y + (q3 - v) * u;
  return (
    <g>
      <line x1={cx} x2={cx} y1={yOf(d.hi)} y2={p.y} stroke={d.color} strokeWidth={1.4} />
      <line x1={cx} x2={cx} y1={p.y + p.height} y2={yOf(d.lo)} stroke={d.color} strokeWidth={1.4} />
      <rect x={p.x} y={p.y} width={p.width} height={p.height} fill="#fff" stroke={d.color} strokeWidth={1.4} />
      <line x1={p.x} x2={p.x + p.width} y1={yOf(d.med)} y2={yOf(d.med)} stroke={d.dark} strokeWidth={1.8} />
      {d.out.map((o: number) => <circle key={o} cx={cx} cy={yOf(o)} r={2} fill={d.dark} />)}
    </g>
  );
};

function AgePanel() {
  const l = 59, r = 227.6, t = 25, b = 234;
  const M = 50;
  return (
    <div style={{ position: 'absolute', left: l - M, top: t - 5 }}>
      <ComposedChart width={r - l + M + 8} height={b - t + 35} data={ageBoxes} margin={{ top: 5, right: 8, bottom: 0, left: 0 }} barCategoryGap={9.75}>
        <XAxis dataKey="cat" height={30} tickSize={3} tickMargin={2} interval={0} stroke="#444" strokeWidth={1.6}
          padding={{ left: 7.75, right: 7.85 }} tick={{ fontSize: 16, fill: '#333', fontFamily: FONT }} />
        <YAxis type="number" width={M} domain={[14.1, 94.5]} allowDataOverflow ticks={[20, 40, 60, 80]} interval={0} tickSize={3} tickMargin={2} stroke="#444" strokeWidth={1.6}
          tick={{ fontSize: 17, fill: '#333', fontFamily: FONT }} />
        <Bar dataKey="range" shape={boxShape} isAnimationActive={false} />
      </ComposedChart>
    </div>
  );
}

const tipColors = ['#F2D65E', '#B2DF8A', '#F5CF6F', '#A6CEE3', '#F4B183', '#B2DF8A'];
const tmbShape = (color: (d: any) => string) => (p: any) => (
  <rect x={p.x} y={p.y} width={p.width + 0.7} height={p.height} fill={color(p.payload)} />
);

function TmbChart() {
  const low = 0.05, tip = 0.09;
  const data = tmbTotals.map((v, i) => {
    const lo = tmbBlips.includes(i) ? 0.26 : low;
    return { i, lo, main: v - lo - tip, tip };
  });
  return (
    <div style={{ position: 'absolute', left: 31, top: 761.3 }}>
      <BarChart width={764} height={76.4} data={data} margin={{ top: 12, right: 0, bottom: 12, left: 0 }} barCategoryGap={0} barGap={0}>
        <XAxis dataKey="i" hide padding={{ left: 6.8, right: 3.5 }} />
        <YAxis type="number" width={40} domain={[0, 4]} ticks={[0, 4]} interval={0} tickSize={5} tickMargin={2} stroke="#222" tick={{ fontSize: 14, fill: '#222', fontFamily: FONT }} />
        <Bar dataKey="lo" stackId="t" isAnimationActive={false} shape={tmbShape((d) => (d.lo > low ? '#F47B20' : '#A6CEE3'))} />
        <Bar dataKey="main" stackId="t" isAnimationActive={false} shape={tmbShape(() => '#1F6CA8')} />
        <Bar dataKey="tip" stackId="t" isAnimationActive={false} shape={tmbShape((d) => tipColors[d.i % tipColors.length])} />
      </BarChart>
    </div>
  );
}

function OncoChart() {
  const rows = genes.map((gene, i) => ({ gene, full: N, segs: paint('bg', geneRuns[i]) }));
  return (
    <div style={{ position: 'absolute', left: 0, top: 830 }}>
      <BarChart layout="vertical" width={794.8} height={262} data={rows} margin={{ top: 2, right: 0, bottom: 2, left: 0 }} barSize={12}>
        <XAxis type="number" hide domain={[0, N]} />
        <YAxis type="category" dataKey="gene" width={77.8} interval={0} tickLine={false} axisLine={false} tickSize={0} tickMargin={5}
          tick={{ fontSize: 14.2, fontStyle: 'italic', fill: '#111', fontFamily: FONT }} />
        <Bar dataKey="full" shape={runShape(mutColors)} isAnimationActive={false} />
      </BarChart>
    </div>
  );
}

function SamplesChart() {
  const keys = [cntMissense, cntFrameDel, cntNonsense, cntFrameIns, cntInFrame, cntSplice, cntStart, cntMulti];
  const names = ['mis', 'del', 'non', 'ins', 'ifd', 'spl', 'tss', 'mul'];
  const rows = genes.map((gene, i) => {
    const r: any = { gene };
    names.forEach((n, j) => { r[n] = keys[j][i]; });
    return r;
  });
  const tick = (p: any) => {
    const idx = genes.indexOf(p.payload.value);
    return <text x={0.5} y={p.y} dy="0.355em" fontSize={14.3} fill="#111" fontFamily={FONT}>{genePct[idx]}</text>;
  };
  return (
    <div style={{ position: 'absolute', left: 795, top: 798.3 }}>
      <BarChart layout="vertical" width={262} height={293.7} data={rows} margin={{ top: 0, right: 28.5, bottom: 2, left: 0 }} barSize={12}>
        <XAxis type="number" orientation="top" height={30} domain={[0, 371]} allowDataOverflow ticks={[0, 371]} interval={0} tickSize={7} tickMargin={9} stroke="#111" tick={{ fontSize: 12.5, fill: '#111', fontFamily: FONT }} />
        <YAxis type="category" dataKey="gene" width={40.2} interval={0} axisLine={false} tickLine={false} padding={{ top: 3.7, bottom: 0 }} tick={tick} />
        {names.map((n, j) => <Bar key={n} dataKey={n} stackId="c" fill={barColors[j]} isAnimationActive={false} />)}
      </BarChart>
    </div>
  );
}

function TrackChart() {
  const rows = trackNames.map((name, i) => ({ name, full: N, segs: paint(trackBases[i], trackRuns[i]) }));
  return (
    <div style={{ position: 'absolute', left: 77.8, top: 1097.3 }}>
      <BarChart layout="vertical" width={940} height={176.7} data={rows} margin={{ top: 0, right: 0, bottom: 0, left: 0 }} barCategoryGap={0}>
        <XAxis type="number" hide domain={[0, N]} />
        <YAxis type="category" dataKey="name" orientation="right" width={223} interval={0} tickLine={false} axisLine={false} tickMargin={0}
          tick={{ fontSize: 14, fill: '#111', fontFamily: FONT }} />
        <Bar dataKey="full" shape={runShape(trackColors)} isAnimationActive={false} />
      </BarChart>
    </div>
  );
}

const stepAt = (curve: number[][], t: number) => {
  let s = 1;
  for (const [d, v] of curve) { if (d <= t) s = v; }
  return s;
};
const toPts = (curve: number[][]) => curve.map(([t, s]) => ({ t, s }));
const censorPts = (times: number[], curve: number[][]) => times.map((t) => ({ t, s: stepAt(curve, t) }));
const plusDot = (color: string) => (p: any) => (
  <path key={p.index} d={`M${p.cx - 2.8},${p.cy}H${p.cx + 2.8}M${p.cx},${p.cy - 3.2}V${p.cy + 3.2}`} stroke={color} strokeWidth={1.1} fill="none" />
);

function KmChart({ box, curves, censors, xMin, xMax, yMin, yMax }: any) {
  const M = 50;
  const colors = ['#DDA05E', '#C03A14'];
  return (
    <div style={{ position: 'absolute', left: box.l - M, top: box.t - 5 }}>
      <LineChart width={box.r - box.l + M + 6} height={box.b - box.t + 25} margin={{ top: 5, right: 6, bottom: 0, left: 0 }}>
        <XAxis type="number" dataKey="t" height={20} domain={[xMin, xMax]} allowDataOverflow ticks={dayTicks} interval={0} tickSize={3} tickMargin={3} stroke="#222" strokeWidth={1.3} tick={{ fontSize: 11.5, fill: '#222', fontFamily: FONT }} />
        <YAxis type="number" dataKey="s" width={M} domain={[yMin, yMax]} allowDataOverflow ticks={probTicks} interval={0} tickSize={3} tickMargin={2} stroke="#222" strokeWidth={1.3} tickFormatter={(v: number) => v.toFixed(2)} tick={{ fontSize: 11.5, fill: '#222', fontFamily: FONT }} />
        <Line data={toPts(curves[1])} dataKey="s" type="stepAfter" stroke={colors[1]} strokeWidth={2} dot={false} isAnimationActive={false} />
        <Line data={censorPts(censors[1], curves[1])} dataKey="s" stroke="none" dot={plusDot(colors[1])} isAnimationActive={false} />
        <Line data={toPts(curves[0])} dataKey="s" type="stepAfter" stroke={colors[0]} strokeWidth={2} dot={false} isAnimationActive={false} />
        <Line data={censorPts(censors[0], curves[0])} dataKey="s" stroke="none" dot={plusDot(colors[0])} isAnimationActive={false} />
      </LineChart>
    </div>
  );
}

// ---------- overlay text and decoration ----------
function T({ x, y, s = 14, a = 'start', w, c = '#111', rot, children }: any) {
  return (
    <text x={x} y={y} fontSize={s} textAnchor={a} fontWeight={w} fill={c} fontFamily={FONT} dominantBaseline="central"
      transform={rot ? `rotate(${rot} ${x} ${y})` : undefined}>{children}</text>
  );
}

const BOXES: Record<string, Box> = {
  B: { l: 409.8, r: 573.7, t: 19.3, b: 233.3, y100: 39, y0: 222.7, c1: 454.5, c2: 528.7, bw: 66.5 },
  C: { l: 756.5, r: 900.8, t: 19.3, b: 233.3, y100: 39, y0: 222.7, c1: 796, c2: 861.5, bw: 59.3 },
  D: { l: 59.2, r: 196.4, t: 289, b: 476, y100: 305.3, y0: 467.3, c1: 96, c2: 158.5, bw: 56 },
  E: { l: 405.7, r: 565, t: 281.7, b: 478.7, y100: 299, y0: 469.3, c1: 449, c2: 521.7, bw: 65 },
  F: { l: 752.6, r: 904, t: 281.7, b: 478.7, y100: 299, y0: 469.3, c1: 793.7, c2: 862.9, bw: 61.5 },
  G: { l: 55.8, r: 191.7, t: 520, b: 720, y100: 538, y0: 711, c1: 92.6, c2: 154.4, bw: 55.4 },
  H: { l: 407.4, r: 558, t: 513.3, b: 719, y100: 531.7, y0: 709.3, c1: 448.3, c2: 517, bw: 61.5 },
  I: { l: 753.6, r: 895.5, t: 512.3, b: 711.3, y100: 530, y0: 702, c1: 792.5, c2: 856.5, bw: 58 },
};
const borderColors: Record<string, string> = { B: '#8A8A8A', C: '#8A8A8A', D: '#8A8A8A', E: '#8A8A8A', F: '#8A8A8A', G: '#808080', H: '#808080', I: '#444' };
// x1, x2, y, star-centre y, star text
const brackets: [number, number, number, number, string][] = [
  [105, 181.5, 34.3, 30.7, '****'], [417, 566, 29, 24.5, '*'], [763.3, 895.4, 29, 24.5, '****'], [64.6, 190.3, 297.3, 292.7, '****'],
  [413, 558, 290, 285.7, '****'], [759.4, 897.8, 290, 285.7, '****'], [61, 185.5, 529.3, 525, '****'], [414, 552, 522.7, 517.7, '****'], [760, 888.7, 522, 516.7, '****'],
];
const panelLetters: [string, number, number][] = [['A', 4, 14], ['B', 358, 14], ['C', 706, 14], ['D', 5, 270], ['E', 359, 270], ['F', 707, 270], ['G', 7, 505], ['H', 359, 505], ['I', 707, 505], ['J', 4, 770], ['K', 42, 1378], ['L', 537, 1378]];
const yTitles: [string, number, number, number][] = [['age at diagnosis', 18.3, 135, 15.7], ['Percentage', 366.4, 125.8, 16], ['Percentage', 714, 125.8, 16], ['Percentage', 20, 382, 14], ['Percentage', 365, 379.7, 14.8], ['Percentage', 713, 379.7, 14.8], ['Percentage', 14, 620, 15], ['Percentage', 365, 616, 15], ['Percentage', 713, 612, 15]];
const legends = [
  { title: [['Gender', 596, 107]], s: 16, sx: 596, sw: 15, lx: 619.7, items: [['Female', PINK[0], 123.3, 130.7], ['Male', BLUE[0], 139.3, 146]], sh: 14 },
  { title: [['Grade', 915.7, 81.7]], s: 16, sx: 917, sw: 14.3, lx: 940, items: [['G2', YEL[0], 97.3, 104.3], ['G3', ROSE[0], 113.3, 120], ['G4', DRED[0], 129.3, 136]], sh: 14 },
  { title: [['IDH status', 223, 356]], s: 14.5, sx: 223.4, sw: 13, lx: 244, items: [['Mutant', TEAL[0], 369.5, 376], ['WT', CREAM[0], 383, 389]], sh: 13 },
  { title: [['1p19q', 588.4, 339], ['codeletion', 588.4, 357.3]], s: 14.5, sx: 588.4, sw: 13.2, lx: 609.7, items: [['codel', PURP[0], 370, 376.7], ['non-codel', SALM[0], 385, 391.7]], sh: 13 },
  { title: [['ATRX status', 917.9, 355]], s: 14.5, sx: 918.5, sw: 13.3, lx: 940, items: [['Mutant', GRN[0], 370, 376.7], ['WT', LPNK[0], 385, 391]], sh: 13 },
  { title: [['MGMT promoter', 203.7, 582], ['status', 204.5, 597]], s: 15.2, sx: 206, sw: 13.6, lx: 228, items: [['Methylated', OLV[0], 610.7, 617.3], ['Unmethylated', YEL[0], 625.3, 632.3]], sh: 13 },
  { title: [['TERT promoter', 571.4, 576.7], ['status', 571.4, 593]], s: 15, sx: 574, sw: 13.3, lx: 596, items: [['Mutant', TBL[0], 606, 613], ['WT', ORG[0], 621, 627.7]], sh: 13 },
  { title: [['Histology', 909.4, 586.7]], s: 15, sx: 909.4, sw: 13.6, lx: 931, items: [['Astrocytoma', TEAL[0], 601.7, 609], ['Oligodendroglioma', CREAM[0], 616.3, 623.3], ['Glioblastoma', PURP[0], 630.7, 637.7]], sh: 13.3 },
];
const mutLegend: [string, string, number, number][] = [
  ['Missense Mutation', '#1F6CA8', 78, 1302.7], ['Frame Shift Del', '#A6CBE0', 78, 1323.3],
  ['In Frame Del', '#F47B20', 242.5, 1302.7], ['Splice Site', '#FDBF6F', 242.5, 1323.3],
  ['Nonsense Mutation', '#AFD98A', 368.5, 1302.7], ['Frame Shift Ins', '#F49A9A', 368.5, 1323.3],
  ['Translation Start Site', '#E31A1C', 534, 1302.7], ['Multi Hit', '#339A38', 534, 1323.3],
];

function Overlay() {
  return (
    <svg width={1062} height={1637} style={{ position: 'absolute', left: 0, top: 0, pointerEvents: 'none' }}>
      {Object.keys(BOXES).map((k) => {
        const g = BOXES[k];
        return <rect key={k} x={g.l} y={g.t} width={g.r - g.l} height={g.b - g.t} fill="none" stroke={borderColors[k]} strokeWidth={1.3} />;
      })}
      {brackets.map(([x1, x2, y, sy, txt], i) => (
        <g key={i}>
          <path d={`M${x1},${y + (i === 0 ? 5.7 : 4)}V${y}H${x2}V${y + (i === 0 ? 5.7 : 4)}`} fill="none" stroke="#222" strokeWidth={1} />
          <text x={(x1 + x2) / 2} y={sy + 6.5} textAnchor="middle" fontSize={12} fontWeight={700} fontFamily={FONT} fill="#111">{txt}</text>
        </g>
      ))}
      {panelLetters.map(([t, x, y]) => <T key={t} x={x} y={y} s={20} w={700} c="#000">{t}</T>)}
      {yTitles.map(([t, x, y, s], i) => <T key={i} x={x} y={y} s={s} a="middle" rot={-90}>{t}</T>)}

      {/* Panel A legend */}
      <T x={239} y={100} s={12.8}>Consensus Cluster</T>
      {ageBoxes.map((d, i) => {
        const y = 117 + i * 17;
        return (
          <g key={d.cat}>
            <line x1={246} x2={246} y1={y - 7} y2={y + 7} stroke={d.color} />
            <rect x={240.4} y={y - 4.5} width={11.6} height={9} fill="#fff" stroke={d.color} strokeWidth={1.2} />
            <line x1={240.4} x2={252} y1={y} y2={y} stroke={d.color} strokeWidth={1.2} />
            <T x={258} y={y} s={14}>{d.cat}</T>
          </g>
        );
      })}

      {legends.map((lg, i) => (
        <g key={i}>
          {lg.title.map(([t, x, y]: any) => <T key={t} x={x} y={y} s={lg.s}>{t}</T>)}
          {lg.items.map(([t, c, sy, ly]: any) => (
            <g key={t}>
              <rect x={lg.sx} y={sy} width={lg.sw} height={lg.sh} fill={c} />
              <T x={lg.lx} y={ly} s={lg.s}>{t}</T>
            </g>
          ))}
        </g>
      ))}

      {/* Oncoplot extras */}
      <T x={42} y={799} s={13} a="middle" rot={-90}>(log10)</T>
      <T x={934} y={818} s={12.5} a="middle">No. of samples</T>
      {mutLegend.map(([t, c, x, y]) => (
        <g key={t}>
          <rect x={x} y={y - 3.5} width={7} height={7} fill={c} />
          <T x={x + 15.5} y={y} s={14}>{t}</T>
        </g>
      ))}

      {/* KM panels */}
      <T x={127.7} y={1374} s={14.8}>IDH Mutant</T>
      <T x={126.7} y={1396} s={12.9}>Consensus Class</T>
      <T x={157.7} y={1560.7} s={13.8}>p = 0.0037</T>
      <T x={89} y={1512} s={13.6} a="middle" rot={-90}>Survival probability</T>
      <T x={282.3} y={1625} s={13.6} a="middle">Time (days)</T>
      <T x={626.7} y={1374} s={14.8}>IDH Wildtype</T>
      <T x={625} y={1397.7} s={12.9}>Consensus Class</T>
      <T x={659.3} y={1560.3} s={13.8}>p = 0.0014</T>
      <T x={588.3} y={1511} s={13.6} a="middle" rot={-90}>Survival probability</T>
      <T x={784} y={1625} s={13.6} a="middle">Time (days)</T>
      {[[254, 272, 325.3, 345.7, 1396], [752.3, 770, 824, 843.7, 1397.7]].map(([a, b, c, d, y], i) => (
        <g key={i}>
          <path d={`M${a},${y}h13M${a + 6.5},${y - 3}v6`} stroke="#DDA05E" strokeWidth={1.6} fill="none" />
          <T x={b} y={y} s={12.8}>cluster1</T>
          <path d={`M${c},${y}h13.5M${c + 6.7},${y - 3}v6`} stroke="#C03A14" strokeWidth={1.6} fill="none" />
          <T x={d} y={y} s={12.8}>cluster2</T>
        </g>
      ))}
    </svg>
  );
}

export default function App() {
  return (
    <div style={{ position: 'absolute', left: 0, top: 0, width: 1062, height: 1637, background: '#fff', fontFamily: FONT, overflow: 'hidden' }}>
      <AgePanel />
      <StackPanel g={BOXES.B} tickFont={17} xFont={16} labelFont={9.6} series={[{ key: 'Male', values: genderMale, col: BLUE }, { key: 'Female', values: genderFemale, col: PINK }]} />
      <StackPanel g={BOXES.C} tickFont={17} xFont={16} labelFont={9.6} series={[{ key: 'G4', values: gradeG4, col: DRED }, { key: 'G3', values: gradeG3, col: ROSE }, { key: 'G2', values: gradeG2, col: YEL }]} />
      <StackPanel g={BOXES.D} tickFont={14} xFont={14} labelFont={8.6} series={[{ key: 'Mutant', values: idhMutant, col: TEAL }, { key: 'WT', values: idhWT, col: CREAM }]} />
      <StackPanel g={BOXES.E} tickFont={14.5} xFont={14.5} labelFont={8.6} series={[{ key: 'codel', values: codel, col: PURP }, { key: 'non', values: nonCodel, col: SALM }]} />
      <StackPanel g={BOXES.F} tickFont={14.5} xFont={14.5} labelFont={8.6} series={[{ key: 'WT', values: atrxWT, col: LPNK }, { key: 'Mutant', values: atrxMutant, col: GRN }]} />
      <StackPanel g={BOXES.G} tickFont={15} xFont={14.5} labelFont={8.6} series={[{ key: 'Meth', values: mgmtMethylated, col: OLV }, { key: 'Unmeth', values: mgmtUnmethylated, col: YEL }]} />
      <StackPanel g={BOXES.H} tickFont={15} xFont={14.5} labelFont={8.6} series={[{ key: 'WT', values: tertWT, col: ORG }, { key: 'Mutant', values: tertMutant, col: TBL }]} />
      <StackPanel g={BOXES.I} tickFont={15} xFont={14.5} labelFont={8.6} series={[{ key: 'Glio', values: histoGlio, col: PURP }, { key: 'Oligo', values: histoOligo, col: CREAM }, { key: 'Astro', values: histoAstro, col: TEAL }]} />
      <TmbChart />
      <OncoChart />
      <SamplesChart />
      <TrackChart />
      <KmChart box={{ l: 127.7, r: 425.3, t: 1423, b: 1600.7 }} curves={[km1Cluster1, km1Cluster2]} censors={[km1Censor1, km1Censor2]} xMin={-89.5} xMax={1912} yMin={-0.0475} yMax={1.049} />
      <KmChart box={{ l: 626.7, r: 924.3, t: 1422, b: 1600 }} curves={[km2Cluster1, km2Cluster2]} censors={[km2Censor1, km2Censor2]} xMin={-89.6} xMax={1914} yMin={-0.0475} yMax={1.049} />
      <Overlay />
    </div>
  );
}
